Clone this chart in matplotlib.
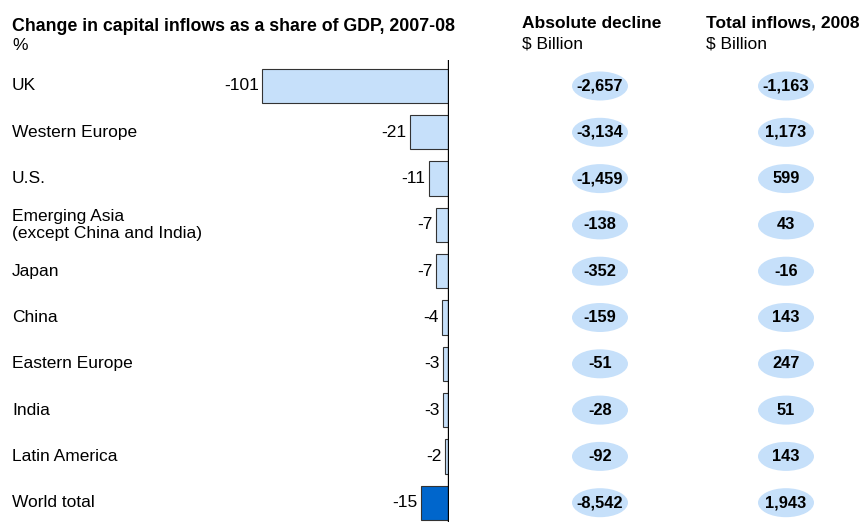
import matplotlib
matplotlib.use("Agg")
import matplotlib.pyplot as plt
from matplotlib.patches import Ellipse

plt.rcParams['font.family'] = ['Liberation Sans', 'DejaVu Sans']

categories = ["UK", "Western Europe", "U.S.", "Emerging Asia\n(except China and India)",
              "Japan", "China", "Eastern Europe", "India", "Latin America", "World total"]
share_change = [-101, -21, -11, -7, -7, -4, -3, -3, -2, -15]
abs_decline = ["-2,657", "-3,134", "-1,459", "-138", "-352", "-159", "-51", "-28", "-92", "-8,542"]
total_inflows = ["-1,163", "1,173", "599", "43", "-16", "143", "247", "51", "143", "1,943"]

W, H = 867, 522
fig = plt.figure(figsize=(W / 100, H / 100), dpi=100)

row0, step = 86, 46.3
y_top, y_bot = 60, 522
ylim = ((y_bot - row0) / step, (y_top - row0) / step)

# bar axes
x_left_px, x_zero_px = 200, 449
px_per_unit = (449 - 262) / 101
ax = fig.add_axes([x_left_px / W, 0, (x_zero_px - x_left_px) / W, (y_bot - y_top) / H])
ax.set_xlim(-(x_zero_px - x_left_px) / px_per_unit, 0)
ax.set_ylim(*ylim)
ax.axis('off')

light = "#C6E0FA"
dark = "#0066CC"
n = len(categories)
colors = [light] * (n - 1) + [dark]
ax.barh(range(n), share_change, height=0.74, color=colors, edgecolor="#333333", linewidth=0.8, zorder=2)
ax.axvline(0, color="black", linewidth=2.4, zorder=3)
for i, v in enumerate(share_change):
    ax.text(v - 1.8, i, f"{v}", ha="right", va="center", fontsize=12.5, color="black")

# overlay axes for labels and ellipses (pixel x, row y)
ov = fig.add_axes([0, 0, 1, (y_bot - y_top) / H])
ov.set_xlim(0, W)
ov.set_ylim(*ylim)
ov.axis('off')
ov.patch.set_alpha(0)

for i, c in enumerate(categories):
    ov.text(12, i, c, ha="left", va="center", fontsize=12.5, linespacing=1.2)

for col_x, vals in ((600, abs_decline), (786, total_inflows)):
    for i, v in enumerate(vals):
        ov.add_patch(Ellipse((col_x, i), 56, 29 / step, facecolor=light, edgecolor="none"))
        ov.text(col_x, i, v, ha="center", va="center", fontsize=11.8, fontweight="bold")

# headers
fig.text(12 / W, 1 - 26.5 / H, "Change in capital inflows as a share of GDP, 2007-08",
         fontsize=12.8, fontweight="bold", ha="left", va="center")
fig.text(12 / W, 1 - 45 / H, "%", fontsize=12.5, ha="left", va="center")
fig.text(522 / W, 1 - 23.5 / H, "Absolute decline", fontsize=12.5, fontweight="bold", ha="left", va="center")
fig.text(522 / W, 1 - 44 / H, "$ Billion", fontsize=12.5, ha="left", va="center")
fig.text(706 / W, 1 - 23.5 / H, "Total inflows, 2008", fontsize=12.5, fontweight="bold", ha="left", va="center")
fig.text(706 / W, 1 - 44 / H, "$ Billion", fontsize=12.5, ha="left", va="center")

fig.savefig("out.png", dpi=100)
